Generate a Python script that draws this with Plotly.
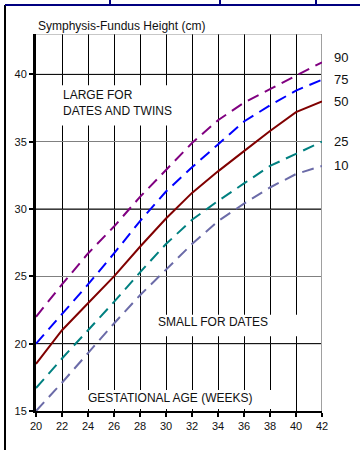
import plotly.graph_objects as go

weeks = [20, 22, 24, 26, 28, 30, 32, 34, 36, 38, 40, 42]
p90 = [22.0, 24.4, 26.7, 28.7, 30.9, 32.9, 34.9, 36.6, 37.9, 38.9, 39.9, 40.9]
p75 = [20.0, 22.2, 24.4, 26.7, 29.1, 31.3, 33.1, 34.8, 36.5, 37.7, 38.8, 39.6]
p50 = [18.5, 21.0, 23.0, 25.0, 27.2, 29.3, 31.2, 32.8, 34.3, 35.8, 37.2, 38.0]
p25 = [16.7, 18.9, 21.0, 23.1, 25.3, 27.4, 29.2, 30.6, 31.9, 33.2, 34.1, 35.0]
p10 = [15.0, 17.1, 19.3, 21.5, 23.6, 25.5, 27.4, 29.1, 30.4, 31.6, 32.6, 33.2]

series = [
    ("90", p90, "#800080", "12px,7px", 5),
    ("75", p75, "#0000FF", "12px,7px", 0),
    ("50", p50, "#800000", "solid", 0),
    ("25", p25, "#008080", "12px,7px", 0),
    ("10", p10, "#6B6BA8", "12px,7px", 0),
]

FONT = "Arial, Liberation Sans, sans-serif"
fig = go.Figure()
for name, vals, col, dash, ysh in series:
    fig.add_trace(go.Scatter(x=weeks, y=vals, mode="lines", name=name,
                             line=dict(color=col, width=2, dash=dash),
                             showlegend=False, hoverinfo="skip"))

annotations = []
for name, vals, col, dash, ysh in series:
    annotations.append(dict(x=42, y=vals[-1], xref="x", yref="y", text=name,
                            showarrow=False, xanchor="left", yanchor="middle",
                            xshift=10, yshift=ysh,
                            font=dict(size=13, color="#111", family=FONT)))

annotations += [
    dict(x=0, y=1.0212, xref="paper", yref="paper", text="Symphysis-Fundus Height (cm)",
         showarrow=False, xanchor="left", yanchor="middle",
         font=dict(size=12, color="#111", family=FONT)),
    dict(x=21.95, y=37.85, xref="x", yref="y", text="LARGE FOR<br>DATES AND TWINS",
         showarrow=False, xanchor="left", yanchor="middle", align="left",
         font=dict(size=12, color="#111", family=FONT)),
    dict(x=29.2, y=21.63, xref="x", yref="y", text="SMALL FOR DATES",
         showarrow=False, xanchor="left", yanchor="middle",
         font=dict(size=12, color="#111", family=FONT)),
    dict(x=23.85, y=15.96, xref="x", yref="y", text="GESTATIONAL AGE (WEEKS)",
         showarrow=False, xanchor="left", yanchor="middle",
         font=dict(size=12, color="#111", family=FONT)),
]

shapes = []
# darker horizontal lines
for yv in [20, 30, 40]:
    shapes.append(dict(type="line", xref="x", yref="y", x0=20, x1=42, y0=yv, y1=yv,
                       line=dict(color="black", width=1), layer="between"))
# white boxes behind text
for (x0, x1, y0, y1) in [(20.3, 30.5, 36.2, 39.2), (29.0, 41.0, 20.55, 22.15), (23.0, 39.0, 15.15, 16.56)]:
    shapes.append(dict(type="rect", xref="x", yref="y", x0=x0, x1=x1, y0=y0, y1=y1,
                       fillcolor="white", line=dict(width=0), layer="between"))
# right and top plot borders
shapes.append(dict(type="line", xref="x", yref="y", x0=42, x1=42, y0=15, y1=43,
                   line=dict(color="#A0A0A0", width=2), layer="between"))
shapes.append(dict(type="line", xref="x", yref="y", x0=20, x1=42, y0=43, y1=43,
                   line=dict(color="#909090", width=1), layer="between"))

# outer frame (paper coords of the pixel positions)
def px_x(p):
    return (p - 36) / 286

def px_y(p):
    return (411 - p) / 377

shapes.append(dict(type="path", xref="paper", yref="paper",
                   path=f"M {px_x(5)},{px_y(452)} L {px_x(5)},{px_y(5)}",
                   line=dict(color="black", width=2), layer="above"))
shapes.append(dict(type="path", xref="paper", yref="paper",
                   path=f"M {px_x(5)},{px_y(5)} L {px_x(362)},{px_y(5)}",
                   line=dict(color="#000080", width=2), layer="above"))
for p in [110, 220, 316]:
    shapes.append(dict(type="path", xref="paper", yref="paper",
                       path=f"M {px_x(p)},{px_y(-2)} L {px_x(p)},{px_y(5)}",
                       line=dict(color="#000080", width=2), layer="above"))

fig.update_layout(
    width=360, height=450,
    margin=dict(l=36, r=38, t=34, b=39),
    paper_bgcolor="white", plot_bgcolor="white",
    font=dict(family=FONT, size=11, color="#111"),
    annotations=annotations, shapes=shapes,
    xaxis=dict(range=[20, 42], tick0=20, dtick=2, showgrid=True, gridcolor="black",
               gridwidth=1, zeroline=False, showline=True, linecolor="black", linewidth=2,
               ticks="outside", ticklen=4, tickwidth=2, tickcolor="black", automargin=False,
               tickfont=dict(size=11, color="#111", family=FONT)),
    yaxis=dict(range=[15, 43], tick0=15, dtick=5, showgrid=True, gridcolor="#808080",
               gridwidth=1, zeroline=False, showline=True, linecolor="black", linewidth=3,
               ticks="outside", ticklen=4, tickwidth=2, tickcolor="black", automargin=False,
               tickfont=dict(size=11, color="#111", family=FONT)),
)

fig.write_html("out.html", config={"displayModeBar": False},
               post_script="document.body.style.margin='0';document.body.style.overflow='hidden';")
